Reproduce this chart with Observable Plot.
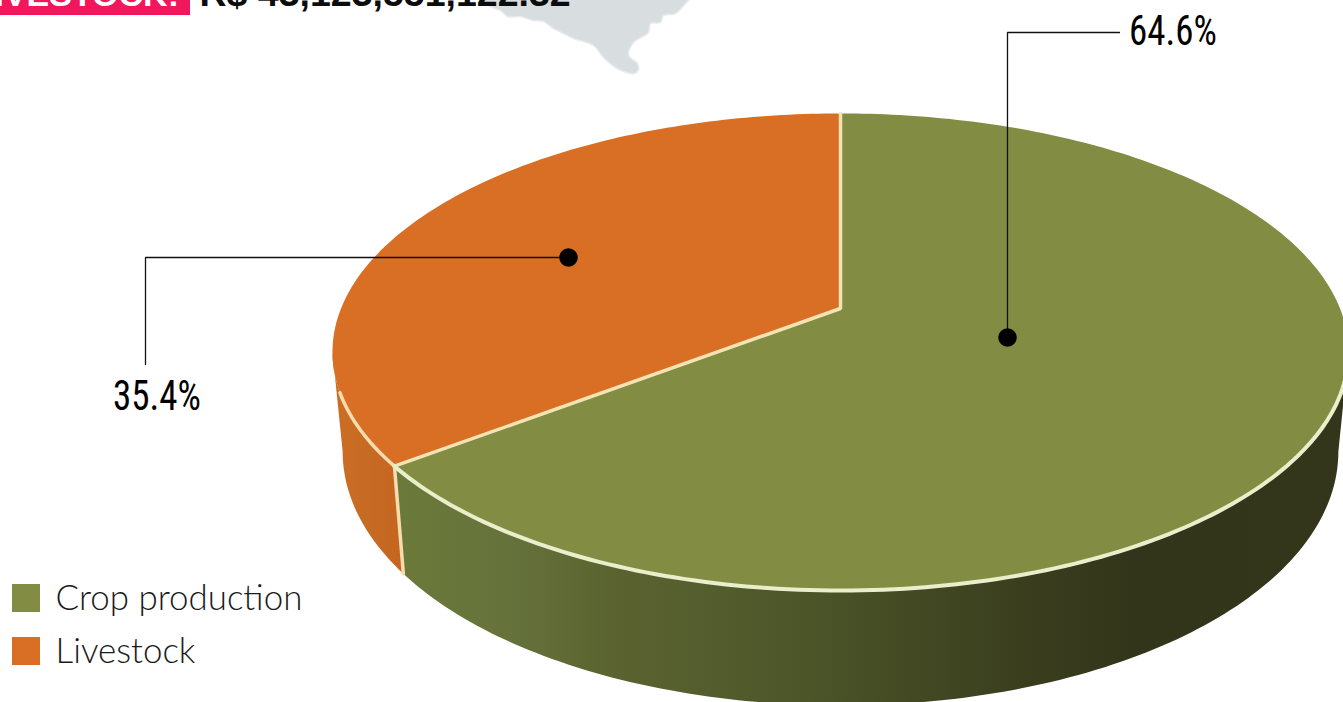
<!DOCTYPE html>
<html>
<head>
<meta charset="utf-8">
<script src="https://cdn.jsdelivr.net/npm/d3@7"></script>
<script src="https://cdn.jsdelivr.net/npm/@observablehq/plot@0.6"></script>
<style>
html,body{margin:0;padding:0;background:#fff;overflow:hidden}
svg{display:block}
.soft{filter:blur(0.7px)}
.pct{transform-box:fill-box;transform-origin:center;transform:scaleX(0.86)}
</style>
</head>
<body>
<div id="chart"></div>
<script>
// ---- data ----
const categories = ["Crop production", "Livestock"];
const shares = [64.6, 35.4];
const colors = ["#828c42", "#d86f25"];
const headingLabel = "LIVESTOCK:";
const headingValue = "R$ 43,123,551,122.32";
// backdrop map outline (cropped by the top of the picture)
const mapX = [480,488,500,507,520,533,543,553,563,573,593,603,615,626,634,638,637,628,633,648,650,660,663,675,685,689,689];
const mapY = [-6,5,10,16,16,20,21,28,33,38,45,57,67,72,73,69,63,55,42,32,23,22,15,13,3,-2,-6];

// ---- layout ----
const W = 1343, H = 702;
const apex = {x: 840, y: 308};   // projected pie centre
const persp = 0.1824, sx = 499.5, sy = 230.6;  // projection of the disc
const wallShrink = 0.98;
const rad = Math.PI / 180;

// angle runs counter-clockwise from the top of the disc, in degrees
const rim = (a) => {
  const X = -Math.sin(a * rad), Y = Math.cos(a * rad), w = 1 + persp * Y;
  return {x: apex.x + sx * X / w, y: apex.y - sy * Y / w};
};
const lower = (a) => {
  const p = rim(a), Y = Math.cos(a * rad);
  return {x: apex.x + (p.x - apex.x) * wallShrink, y: p.y + 96 - 19 * Y};
};
const arc = (a0, a1, f = rim) => {
  const n = Math.max(2, Math.ceil(Math.abs(a1 - a0)));
  return d3.range(n + 1).map((i) => f(a0 + (a1 - a0) * i / n));
};

const seam = shares[1] / 100 * 360;          // livestock runs 0 → seam
const silhouette = Math.acos(-persp) / rad;  // left limb; the right limb mirrors it

const sliceRows = [
  ...[apex, ...arc(seam, 360)].map((p) => ({...p, slice: categories[0]})),
  ...[apex, ...arc(0, seam)].map((p) => ({...p, slice: categories[1]}))
];
const greenWall = [...arc(seam, 360 - silhouette), ...arc(360 - silhouette, seam, lower)];
const orangeWall = [...arc(silhouette, seam), ...arc(seam, silhouette, lower)];
const mapRows = mapX.map((x, i) => ({x, y: mapY[i]}));

const legendRows = categories.map((c, i) => ({c, y: 584 + i * 53}));
const callouts = [
  {text: shares[0].toFixed(1) + "%", dot: {x: 1007, y: 337}, path: [{x: 1007, y: 337}, {x: 1007, y: 32}, {x: 1119, y: 32}], lx: 1173, ly: 31},
  {text: shares[1].toFixed(1) + "%", dot: {x: 568, y: 257}, path: [{x: 568, y: 257}, {x: 145, y: 257}, {x: 145, y: 364}], lx: 157, ly: 396}
];

const gradients = () => {
  const defs = d3.create("svg:defs");
  const add = (id, x1, x2, stops) => {
    const g = defs.append("linearGradient").attr("id", id)
      .attr("gradientUnits", "userSpaceOnUse")
      .attr("x1", x1).attr("x2", x2).attr("y1", 0).attr("y2", 0);
    stops.forEach(([o, c]) => g.append("stop").attr("offset", o).attr("stop-color", c));
  };
  add("greenSide", 400, 1343, [[0, "#6b7a3a"], [0.12, "#65713a"], [0.22, "#5b6430"], [0.38, "#50592b"], [0.52, "#454c24"], [0.66, "#3a3e1e"], [0.78, "#33351a"], [1, "#34361b"]]);
  add("orangeSide", 335, 403, [[0, "#cc6d24"], [0.5, "#c66b24"], [1, "#c5651f"]]);
  return defs.node();
};

const chart = Plot.plot({
  width: W, height: H,
  margin: 0,
  x: {domain: [0, W], range: [0, W], axis: null},
  y: {domain: [0, H], range: [0, H], axis: null},
  color: {domain: categories, range: colors},
  style: {background: "#fff"},
  marks: [
    gradients,
    // map backdrop and heading, cropped by the frame
    Plot.line(mapRows, {x: "x", y: "y", fill: "#d8dde0", stroke: "#e6eaec", strokeWidth: 1.5, curve: "catmull-rom"}),
    Plot.rect([{}], {x1: () => -2, x2: () => 190, y1: () => -30, y2: () => 15, fill: "#f0175c"}),
    Plot.text([headingLabel], {x: () => 178.5, y: () => 5, text: (d) => d, textAnchor: "end", lineAnchor: "bottom", fill: "#fff", fontFamily: "Liberation Sans", fontWeight: 700, fontSize: 34}),
    Plot.text([headingValue], {x: () => 199, y: () => 5, text: (d) => d, textAnchor: "start", lineAnchor: "bottom", fill: "#0c0c0c", fontFamily: "Liberation Sans", fontWeight: 700, fontSize: 37.5}),

    // pie walls
    Plot.line(orangeWall, {x: "x", y: "y", fill: "url(#orangeSide)", stroke: null, className: "soft"}),
    Plot.line(greenWall, {x: "x", y: "y", fill: "url(#greenSide)", stroke: null, className: "soft"}),
    Plot.line([rim(seam), lower(seam)], {x: "x", y: "y", stroke: "#f6dcae", strokeWidth: 3.5, className: "soft"}),

    // pie top
    Plot.line(sliceRows, {x: "x", y: "y", z: "slice", fill: "slice", stroke: null, className: "soft"}),
    Plot.line([rim(0), apex, rim(seam)], {x: "x", y: "y", stroke: "#f4e4b4", strokeWidth: 3.5, strokeLinejoin: "miter", className: "soft"}),
    Plot.line(arc(110, seam), {x: "x", y: "y", stroke: "#f7dcae", strokeWidth: 3.5, className: "soft"}),
    Plot.line(arc(seam, 360 - silhouette + 1), {x: "x", y: "y", stroke: "#e9eecb", strokeWidth: 4, className: "soft"}),

    // callouts
    ...callouts.map((c) => Plot.line(c.path, {x: "x", y: "y", stroke: "#111", strokeWidth: 1.3, strokeLinejoin: "miter"})),
    Plot.dot(callouts.map((c) => c.dot), {x: "x", y: "y", r: 9.3, fill: "#000", stroke: null}),
    ...callouts.map((c) => Plot.text([c], {x: "lx", y: "ly", text: "text", textAnchor: "middle", fill: "#000", fontFamily: "Roboto Condensed, Roboto", fontSize: 43, className: "pct"})),

    // legend
    Plot.rect(legendRows, {x1: () => 12, x2: () => 40, y1: "y", y2: (d) => d.y + 28, fill: "c"}),
    Plot.text(legendRows, {x: () => 55, y: (d) => d.y + 14, text: "c", textAnchor: "start", fill: "#1a1a1a", fontFamily: "Lato", fontWeight: 300, fontSize: 34.9})
  ]
});
document.getElementById("chart").appendChild(chart);
</script>
</body>
</html>
